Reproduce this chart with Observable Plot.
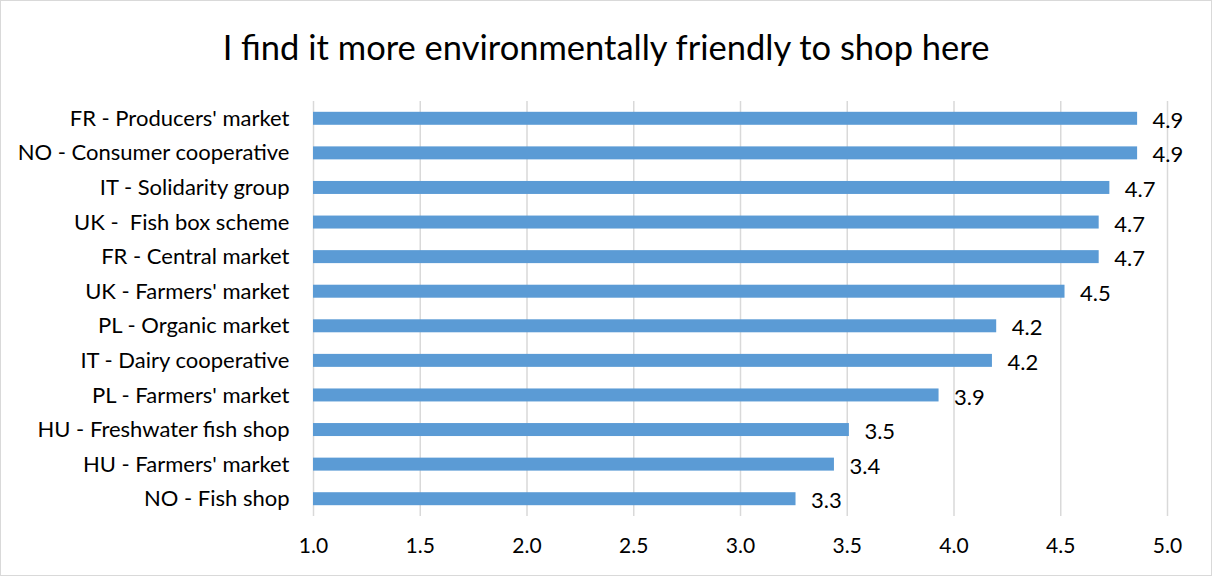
<!DOCTYPE html>
<html>
<head>
<meta charset="utf-8">
<script src="https://cdn.jsdelivr.net/npm/d3@7"></script>
<script src="https://cdn.jsdelivr.net/npm/@observablehq/plot@0.6"></script>
<style>
  html, body { margin: 0; padding: 0; background: #fff; }
  #frame {
    width: 1212px; height: 576px; box-sizing: border-box;
    border: 1px solid #d9d9d9; background: #fff; overflow: hidden;
    font-family: Lato, "Open Sans", sans-serif;
  }
  #title {
    height: 94px; line-height: 92px; text-align: center;
    font-size: 34.5px; color: #000; white-space: nowrap;
  }
  #chart svg { display: block; }
</style>
</head>
<body>
<div id="frame">
  <div id="title">I find it more environmentally friendly to shop here</div>
  <div id="chart"></div>
</div>
<script>
const categories = [
  "FR - Producers' market",
  "NO - Consumer cooperative",
  "IT - Solidarity group",
  "UK -  Fish box scheme",
  "FR - Central market",
  "UK - Farmers' market",
  "PL - Organic market",
  "IT - Dairy cooperative",
  "PL - Farmers' market",
  "HU - Freshwater fish shop",
  "HU - Farmers' market",
  "NO - Fish shop"
];
const values = [4.86, 4.86, 4.73, 4.68, 4.68, 4.52, 4.20, 4.18, 3.93, 3.51, 3.44, 3.26];
const xTicks = [1.0, 1.5, 2.0, 2.5, 3.0, 3.5, 4.0, 4.5, 5.0];

const data = categories.map((c, i) => ({category: c, value: values[i]}));
const fmt = d3.format(".1f");

const chart = Plot.plot({
  width: 1210,
  height: 480,
  marginTop: 6,
  marginBottom: 59,
  marginLeft: 312,
  marginRight: 44,
  style: {fontFamily: "Lato, 'Open Sans', sans-serif", fontSize: "21px", color: "#000", background: "#fff", overflow: "visible"},
  x: {domain: [1, 5], ticks: xTicks, tickFormat: fmt, label: null},
  y: {domain: categories, padding: 0, round: false, label: null},
  marks: [
    Plot.gridX(xTicks, {stroke: "#d9d9d9", strokeOpacity: 1, strokeWidth: 1.5}),
    Plot.axisX({ticks: xTicks, tickFormat: fmt, tickSize: 0, tickPadding: 22, fontSize: 21, label: null}),
    Plot.axisY({tickSize: 0, tickPadding: 24, fontSize: 22, label: null}),
    Plot.barX(data, {x1: 1, x2: "value", y: "category", fill: "#5b9bd5", insetTop: 10.8, insetBottom: 10.8}),
    Plot.text(data, {x: "value", y: "category", text: d => fmt(d.value), textAnchor: "start", dx: 15, dy: 2, fontSize: 22, fill: "#000"})
  ]
});
document.getElementById("chart").appendChild(chart);
</script>
</body>
</html>
